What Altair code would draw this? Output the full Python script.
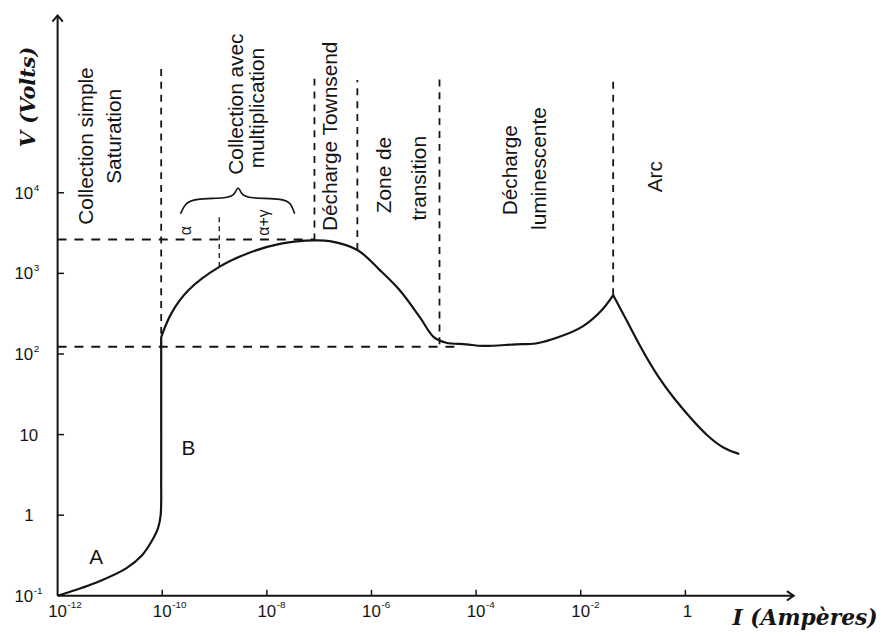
import altair as alt
import pandas as pd

# ---------------- data (exponents: log10 of I in A, log10 of V in V) ----------------
# curve, part 1: region A and the vertical rise B at 1e-10 A
c1_logI = [-12.0, -11.53, -11.20, -10.69, -10.39, -10.20, -10.08, -10.03, -10.02, -10.02, -10.02]
c1_logV = [-1.0, -0.90, -0.82, -0.66, -0.50, -0.32, -0.16, 0.0, 0.45, 1.30, 2.21]
# curve, part 2: multiplication, Townsend, transition, glow discharge up to the arc onset
c2_logI = [-10.02, -9.82, -9.50, -8.91, -8.36, -7.73, -7.09, -6.80, -6.27, -5.84, -5.46,
           -5.08, -4.81, -4.57, -4.19, -3.87, -3.24, -2.86, -2.42, -1.97, -1.59, -1.38]
c2_logV = [2.21, 2.51, 2.79, 3.08, 3.25, 3.37, 3.41, 3.40, 3.29, 3.04, 2.79,
           2.46, 2.21, 2.14, 2.12, 2.10, 2.12, 2.13, 2.21, 2.34, 2.55, 2.73]
# curve, part 3: arc
c3_logI = [-1.38, -1.10, -0.83, -0.53, -0.21, 0.12, 0.42, 0.74, 1.03]
c3_logV = [2.73, 2.39, 2.05, 1.72, 1.44, 1.19, 0.98, 0.82, 0.76]

# vertical dashed region boundaries
vl_logI = [-10.02, -7.09, -6.27, -4.70, -1.38]
vl_top = [5.54, 5.48, 5.40, 5.47, 5.44]
vl_bot = [2.09, 3.41, 3.29, 2.12, 2.73]
# alpha / alpha+gamma divider
ag_logI = [-8.91]
ag_top = [3.74]
ag_bot = [3.08]
# horizontal dashed levels
hl_logV = [3.42, 2.09]
hl_from = [-12.0, -12.0]
hl_to = [-7.09, -4.38]

# curly brace above alpha / alpha+gamma
br_logI = [-9.65, -9.57, -9.40, -8.74, -8.61, -8.55, -8.49, -8.36, -7.66, -7.53, -7.47]
br_logV = [3.74, 3.86, 3.93, 3.93, 3.98, 4.10, 3.98, 3.93, 3.93, 3.86, 3.74]

# axes
x_min, x_max = -12.0, 2.07
y_min, y_max = -1.0, 6.2
x_tick_exp = [-10, -8, -6, -4, -2, 0]
y_tick_exp = [0, 1, 2, 3, 4]
x_lab_exp = [-12, -10, -8, -6, -4, -2]
x_lab_sup = ["-12", "-10", "-8", "-6", "-4", "-2"]
y_lab_exp = [-1, 2, 3, 4]
y_lab_sup = ["-1", "2", "3", "4"]
y_plain_exp = [0, 1]
y_plain_txt = ["1", "10"]

# region labels (rotated), positions in data space
rot_text = ["Collection simple", "Saturation", "Collection avec", "multiplication",
            "Décharge Townsend", "Zone de", "transition", "Décharge", "luminescente", "Arc"]
rot_logI = [-11.43, -10.90, -8.57, -8.17, -6.77, -5.74, -5.08, -3.33, -2.77, -0.57]
rot_logV = [4.58, 4.70, 5.10, 5.05, 4.70, 4.22, 4.18, 4.28, 4.30, 4.20]
greek_text = ["α", "α+γ"]
greek_logI = [-9.54, -8.06]
greek_logV = [3.53, 3.63]
letter_text = ["A", "B"]
letter_logI = [-11.26, -9.50]
letter_logV = [-0.53, 0.82]

ink = "#141414"
W, H = 742, 585

xscale = alt.Scale(type="log", domain=[10 ** x_min, 10 ** x_max], nice=False)
yscale = alt.Scale(type="log", domain=[10 ** y_min, 10 ** y_max], nice=False)


def p10(v):
    return [10.0 ** e for e in v]


def X(f="I"):
    return alt.X(f"{f}:Q", scale=xscale, axis=None)


def Y(f="V"):
    return alt.Y(f"{f}:Q", scale=yscale, axis=None)


# curves
df1 = pd.DataFrame({"I": p10(c1_logI), "V": p10(c1_logV), "o": range(len(c1_logI))})
df2 = pd.DataFrame({"I": p10(c2_logI), "V": p10(c2_logV), "o": range(len(c2_logI))})
df3 = pd.DataFrame({"I": p10(c3_logI), "V": p10(c3_logV), "o": range(len(c3_logI))})
curve1 = alt.Chart(df1).mark_line(color=ink, strokeWidth=2.2, interpolate="catmull-rom").encode(
    x=X(), y=Y(), order="o:Q")
curve2 = alt.Chart(df2).mark_line(color=ink, strokeWidth=2.2, interpolate="catmull-rom").encode(
    x=X(), y=Y(), order="o:Q")
curve3 = alt.Chart(df3).mark_line(color=ink, strokeWidth=2.2, interpolate="basis").encode(
    x=X(), y=Y(), order="o:Q")

# dashed lines
dvl = pd.DataFrame({"I": p10(vl_logI), "V": p10(vl_bot), "V2": p10(vl_top)})
vlines = alt.Chart(dvl).mark_rule(color=ink, strokeWidth=1.8, strokeDash=[7, 6]).encode(
    x=X(), y=Y(), y2="V2:Q")
dag = pd.DataFrame({"I": p10(ag_logI), "V": p10(ag_bot), "V2": p10(ag_top)})
agline = alt.Chart(dag).mark_rule(color=ink, strokeWidth=1.3, strokeDash=[5, 4]).encode(
    x=X(), y=Y(), y2="V2:Q")
dhl = pd.DataFrame({"I": p10(hl_from), "I2": p10(hl_to), "V": p10(hl_logV)})
hlines = alt.Chart(dhl).mark_rule(color=ink, strokeWidth=2, strokeDash=[9, 8]).encode(
    x=X(), x2="I2:Q", y=Y())

# brace
dbr = pd.DataFrame({"I": p10(br_logI), "V": p10(br_logV), "o": range(len(br_logI))})
brace = alt.Chart(dbr).mark_line(color=ink, strokeWidth=1.6, interpolate="basis").encode(
    x=X(), y=Y(), order="o:Q")

# axis lines and arrows
dax_y = pd.DataFrame({"I": [10 ** x_min], "V": [10 ** y_min], "V2": [10 ** y_max]})
dax_x = pd.DataFrame({"I": [10 ** x_min], "I2": [10 ** x_max], "V": [10 ** y_min]})
yaxis = alt.Chart(dax_y).mark_rule(color=ink, strokeWidth=2).encode(x=X(), y=Y(), y2="V2:Q")
xaxis = alt.Chart(dax_x).mark_rule(color=ink, strokeWidth=2).encode(x=X(), x2="I2:Q", y=Y())
arrow_up = alt.Chart(pd.DataFrame({"I": [10 ** x_min], "V": [10 ** y_max]})).mark_point(
    shape="M -1 1.2 L 0 0 L 1 1.2", filled=False, color=ink, strokeWidth=2, size=110, opacity=1
).encode(x=X(), y=Y())
arrow_right = alt.Chart(pd.DataFrame({"I": [10 ** x_max], "V": [10 ** y_min]})).mark_point(
    shape="M -1.3 -0.9 L 0 0 L -1.3 0.9", filled=False, color=ink, strokeWidth=2, size=110, opacity=1
).encode(x=X(), y=Y())

# ticks (inside)
dxt = pd.DataFrame({"I": p10(x_tick_exp), "V": [10 ** y_min] * len(x_tick_exp)})
dyt = pd.DataFrame({"I": [10 ** x_min] * len(y_tick_exp), "V": p10(y_tick_exp)})
xticks = alt.Chart(dxt).mark_tick(orient="vertical", size=6, thickness=1.5, color=ink, yOffset=-3,
                                  opacity=1).encode(x=X(), y=Y())
yticks = alt.Chart(dyt).mark_tick(orient="horizontal", size=7, thickness=1.5, color=ink, xOffset=3,
                                  opacity=1).encode(x=X(), y=Y())

lab_font = "Liberation Sans"
# x tick labels
dxl = pd.DataFrame({"I": p10(x_lab_exp), "V": [10 ** y_min] * len(x_lab_exp),
                    "base": ["10"] * len(x_lab_exp), "sup": x_lab_sup})
xl_base = alt.Chart(dxl).mark_text(font=lab_font, fontSize=17, color=ink, align="center",
                                   baseline="middle", dy=16).encode(x=X(), y=Y(), text="base:N")
xl_sup = alt.Chart(dxl).mark_text(font=lab_font, fontSize=10, color=ink, align="left",
                                  baseline="middle", dx=10, dy=9).encode(x=X(), y=Y(), text="sup:N")
dx1 = pd.DataFrame({"I": [1.0], "V": [10 ** y_min], "t": ["1"]})
xl_one = alt.Chart(dx1).mark_text(font=lab_font, fontSize=17, color=ink, align="center",
                                  baseline="middle", dy=16, dx=2).encode(x=X(), y=Y(), text="t:N")
# y tick labels
dyl = pd.DataFrame({"I": [10 ** x_min] * len(y_lab_exp), "V": p10(y_lab_exp),
                    "base": ["10"] * len(y_lab_exp), "sup": y_lab_sup})
yl_base = alt.Chart(dyl).mark_text(font=lab_font, fontSize=17, color=ink, align="center",
                                   baseline="middle", dx=-34, dy=1).encode(x=X(), y=Y(), text="base:N")
yl_sup = alt.Chart(dyl).mark_text(font=lab_font, fontSize=10, color=ink, align="left",
                                  baseline="middle", dx=-24, dy=-5).encode(x=X(), y=Y(), text="sup:N")
dyp = pd.DataFrame({"I": [10 ** x_min] * len(y_plain_exp), "V": p10(y_plain_exp), "t": y_plain_txt})
yl_plain = alt.Chart(dyp).mark_text(font=lab_font, fontSize=17, color=ink, align="center",
                                    baseline="middle", dx=-29, dy=1).encode(x=X(), y=Y(), text="t:N")

# region labels
drot = pd.DataFrame({"I": p10(rot_logI), "V": p10(rot_logV), "t": rot_text})
rot_labels = alt.Chart(drot).mark_text(font=lab_font, fontSize=21, color=ink, angle=270,
                                       align="center", baseline="middle").encode(x=X(), y=Y(), text="t:N")
dgr = pd.DataFrame({"I": p10(greek_logI), "V": p10(greek_logV), "t": greek_text})
greek = alt.Chart(dgr).mark_text(font=lab_font, fontSize=16, color=ink, angle=270,
                                 align="center", baseline="middle").encode(x=X(), y=Y(), text="t:N")
dlet = pd.DataFrame({"I": p10(letter_logI), "V": p10(letter_logV), "t": letter_text})
letters = alt.Chart(dlet).mark_text(font=lab_font, fontSize=21, color=ink,
                                    align="center", baseline="middle").encode(x=X(), y=Y(), text="t:N")

# axis titles
dyt_title = pd.DataFrame({"I": [10 ** x_min], "V": [10 ** 5.19], "t": ["V (Volts)"]})
y_title = alt.Chart(dyt_title).mark_text(font="DejaVu Serif", fontSize=21, fontWeight="bold",
                                         fontStyle="italic", color=ink, angle=270, align="center",
                                         baseline="middle", dy=-29).encode(x=X(), y=Y(), text="t:N")
dxt_title = pd.DataFrame({"I": [10 ** 0.9], "V": [10 ** y_min], "t": ["I (Ampères)"]})
x_title = alt.Chart(dxt_title).mark_text(font="DejaVu Serif", fontSize=22, fontWeight="bold",
                                         fontStyle="italic", color=ink, align="left",
                                         baseline="alphabetic", dy=29).encode(x=X(), y=Y(), text="t:N")

chart = alt.layer(
    hlines, vlines, agline, brace, curve1, curve2, curve3,
    yaxis, xaxis, arrow_up, arrow_right, xticks, yticks,
    xl_base, xl_sup, xl_one, yl_base, yl_sup, yl_plain,
    rot_labels, greek, letters, y_title, x_title,
).properties(
    width=W, height=H,
    padding={"left": 50, "top": 5, "right": 84, "bottom": 34},
    autosize=alt.AutoSizeParams(type="none"),
    background="white",
).configure_view(stroke=None)

chart.save("out.html", embed_options={"renderer": "svg", "actions": False})
